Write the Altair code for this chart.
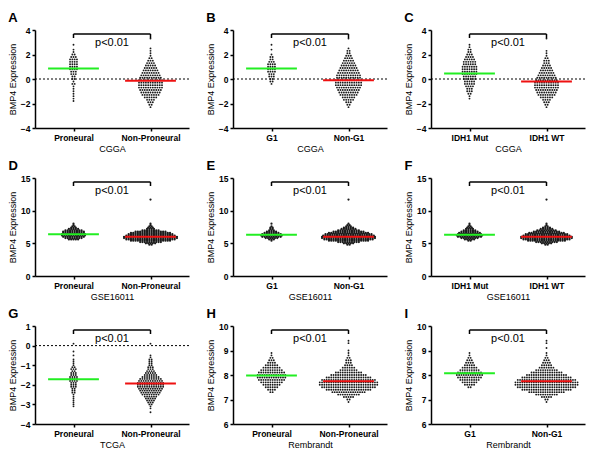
import altair as alt
import pandas as pd

FONT = "Liberation Sans"

# ---------------- data ----------------
panel_letters = ["A", "B", "C", "D", "E", "F", "G", "H", "I"]
dataset_names = ["CGGA", "CGGA", "CGGA", "GSE16011", "GSE16011", "GSE16011",
                 "TCGA", "Rembrandt", "Rembrandt"]
group_names = [["Proneural", "Non-Proneural"], ["G1", "Non-G1"], ["IDH1 Mut", "IDH1 WT"],
               ["Proneural", "Non-Proneural"], ["G1", "Non-G1"], ["IDH1 Mut", "IDH1 WT"],
               ["Proneural", "Non-Proneural"], ["Proneural", "Non-Proneural"], ["G1", "Non-G1"]]
y_domains = [[-4, 4], [-4, 4], [-4, 4], [0, 15], [0, 15], [0, 15], [-4, 1], [6, 10], [6, 10]]
y_ticks = [[-4, -2, 0, 2, 4]] * 3 + [[0, 5, 10, 15]] * 3 + [[-4, -3, -2, -1, 0, 1],
                                                           [6, 7, 8, 9, 10], [6, 7, 8, 9, 10]]
zero_line = [True, True, True, False, False, False, True, False, False]
group_means = [[0.85, -0.15], [0.85, -0.1], [0.45, -0.2], [6.4, 6.0], [6.3, 6.0], [6.3, 6.0],
               [-1.72, -1.93], [7.98, 7.75], [8.07, 7.75]]
p_text = "p<0.01"

# histogram of each group: top bin value, bin step, counts per bin (top -> bottom), outliers
bin_tops = [[2.8, 3.3], [2.8, 3.3], [2.8, 3.3],
            [8.0, 8.0], [8.0, 8.0], [8.0, 8.0],
            [0.1, 0.1], [8.9, 9.4], [8.9, 9.4]]
bin_steps = [0.2, 0.2, 0.2, 0.2, 0.2, 0.2, 0.1, 0.1, 0.1]
bin_counts = [
    [[1, 0, 1, 1, 2, 3, 4, 4, 4, 4, 4, 3, 3, 2, 2, 1, 2, 1, 1, 1, 1, 1, 1, 1],
     [1, 0, 0, 0, 1, 1, 1, 1, 2, 3, 4, 5, 6, 7, 8, 9, 10, 11, 11, 11, 11, 10, 9, 8, 6, 4, 3, 2, 1]],
    [[1, 0, 1, 0, 1, 2, 2, 3, 4, 4, 4, 4, 3, 3, 2, 2, 1],
     [1, 0, 0, 0, 1, 2, 2, 3, 4, 5, 6, 7, 8, 9, 10, 11, 11, 12, 12, 12, 11, 10, 9, 8, 6, 5, 3, 2, 1]],
    [[1, 1, 2, 2, 3, 4, 5, 6, 6, 7, 7, 7, 7, 6, 6, 5, 5, 4, 3, 3, 2, 1, 1],
     [1, 0, 0, 0, 0, 1, 1, 1, 2, 3, 3, 4, 5, 6, 7, 8, 9, 10, 11, 11, 11, 10, 9, 8, 6, 4, 3, 2, 1]],
    [[1, 1, 2, 3, 5, 8, 10, 10, 11, 11, 10, 8, 5],
     [1, 1, 2, 3, 4, 8, 14, 18, 20, 22, 24, 24, 22, 18, 10, 5, 2]],
    [[1, 0, 1, 2, 2, 3, 5, 7, 9, 10, 9, 6, 3, 1],
     [1, 2, 3, 5, 7, 10, 14, 18, 21, 23, 24, 24, 22, 18, 10, 5, 2]],
    [[1, 1, 2, 3, 4, 6, 8, 10, 11, 12, 11, 8, 5, 2],
     [1, 1, 2, 4, 6, 9, 12, 16, 19, 21, 23, 23, 21, 17, 10, 5, 2]],
    [[1, 0, 0, 0, 1, 0, 1, 0, 1, 1, 1, 1, 2, 3, 2, 3, 3, 4, 4, 4, 3, 3, 3, 2, 2, 2, 1, 1, 1, 1, 1, 1, 1],
     [1, 0, 0, 0, 0, 0, 1, 1, 2, 2, 2, 2, 3, 3, 4, 5, 6, 8, 10, 11, 12, 12, 12, 11, 10, 9, 8, 6, 5, 4, 3, 2, 1, 1, 0, 1]],
    [[1, 1, 2, 3, 4, 6, 8, 10, 12, 13, 13, 12, 10, 8, 6, 4, 2],
     [1, 1, 0, 0, 1, 1, 1, 2, 3, 3, 4, 6, 8, 12, 16, 20, 24, 26, 26, 24, 20, 15, 10, 5, 2, 1]],
    [[1, 1, 2, 3, 4, 5, 7, 9, 11, 12, 11, 9, 7, 5, 2],
     [1, 1, 0, 1, 0, 1, 1, 2, 3, 4, 5, 7, 10, 14, 18, 22, 26, 28, 28, 26, 22, 16, 10, 5, 2, 1]],
]
outliers = [[[], []], [[], []], [[], []],
            [[], [11.7]], [[], [11.7]], [[], [11.7]],
            [[], []], [[], []], [[], []]]

# ---------------- layout ----------------
W, H = 154, 98
PX_PER_UNIT = W / 2.0
DOT_GAP_PX = 2.3


def swarm(idx):
    rows = []
    dx = DOT_GAP_PX / PX_PER_UNIT
    for gi in range(2):
        top = bin_tops[idx][gi]
        for k, n in enumerate(bin_counts[idx][gi]):
            v = round(top - k * bin_steps[idx], 3)
            for i in range(n):
                rows.append({"x": gi + (i - (n - 1) / 2) * dx, "y": v})
        for v in outliers[idx][gi]:
            rows.append({"x": gi, "y": v})
    return pd.DataFrame(rows)


def panel(idx):
    names = group_names[idx]
    xs = alt.Scale(domain=[-0.5, 1.5], nice=False, zero=False)
    ys = alt.Scale(domain=y_domains[idx], nice=False, zero=False)
    xaxis = alt.Axis(values=[0, 1], title=dataset_names[idx],
                     labelExpr=f"datum.value == 0 ? '{names[0]}' : '{names[1]}'",
                     grid=False, labelFlush=False)
    yaxis = alt.Axis(values=y_ticks[idx], title="BMP4 Expression", grid=False,
                     format="d")

    def X(f="x"):
        return alt.X(f"{f}:Q", scale=xs, axis=xaxis)

    def Y(f="y"):
        return alt.Y(f"{f}:Q", scale=ys, axis=yaxis)

    dense = idx in (3, 4, 5)
    pts = alt.Chart(swarm(idx)).mark_circle(
        size=5 if dense else 3.5, color="#1a1a1a", opacity=1
    ).encode(x=X(), y=Y())

    mdf = pd.DataFrame({"x": [-0.33, 0.67], "x2": [0.33, 1.33],
                        "y": group_means[idx], "c": ["g", "r"]})
    means = alt.Chart(mdf).mark_rule(strokeWidth=2).encode(
        x=X(), x2="x2:Q", y=Y(),
        color=alt.Color("c:N", scale=alt.Scale(domain=["g", "r"],
                                                range=["#22ee22", "#ee1111"]),
                        legend=None))

    layers = [pts, means]
    if zero_line[idx]:
        zl = alt.Chart(pd.DataFrame({"y": [0]})).mark_rule(
            color="black", strokeDash=[2, 2], strokeWidth=1).encode(y=Y())
        layers.insert(0, zl)

    bdf = pd.DataFrame({"x": [0], "x2": [1]})
    bracket = alt.Chart(bdf).mark_rule(color="black", strokeWidth=1.5).encode(
        x=X(), x2="x2:Q", y=alt.value(4))
    tdf = pd.DataFrame({"x": [0, 1]})
    ticks = alt.Chart(tdf).mark_rule(color="black", strokeWidth=1.5).encode(
        x=X(), y=alt.value(4), y2=alt.value(8))
    txt = alt.Chart(pd.DataFrame({"x": [0.5]})).mark_text(
        text=p_text, fontSize=11, font=FONT, baseline="middle").encode(
        x=X(), y=alt.value(13))
    layers += [bracket, ticks, txt]

    return alt.layer(*layers).properties(
        width=W, height=H,
        title=alt.TitleParams(panel_letters[idx], anchor="start", fontSize=13,
                              fontWeight="bold", font=FONT, offset=1),
    )


chart = alt.concat(*[panel(i) for i in range(9)], columns=3,
                   spacing={"row": 6, "column": 16}).properties(
    padding={"top": 4, "left": 0, "right": 0, "bottom": 0}
).configure_view(stroke=None).configure_axis(
    domainColor="black", domainWidth=1.5, tickColor="black", tickWidth=1.5,
    tickSize=3, labelFont=FONT, labelFontSize=8.5, labelFontWeight="bold",
    labelColor="black", titleFont=FONT, titleFontSize=9, titleFontWeight="normal",
    titleColor="black", labelPadding=2, titlePadding=3
).configure_title(color="black")

chart.save("out.html", embed_options={"renderer": "svg", "actions": False})
